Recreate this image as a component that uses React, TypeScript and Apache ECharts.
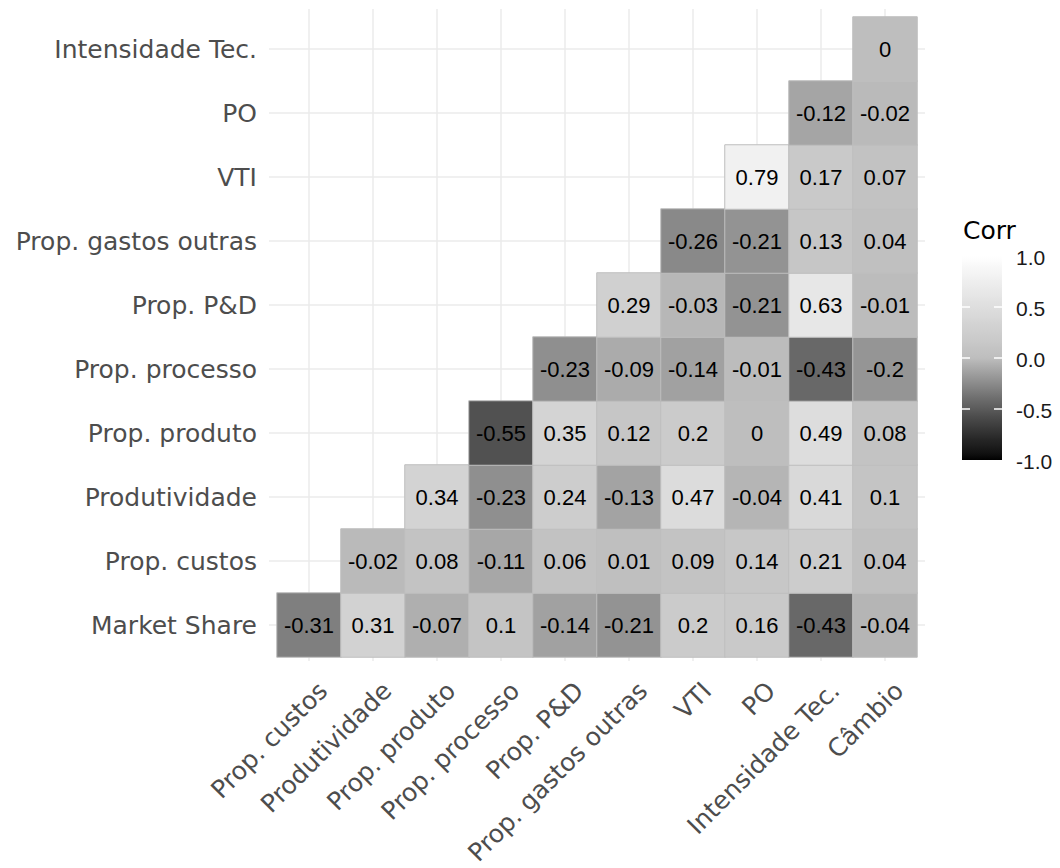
import React, { useEffect, useRef } from "react";
import * as echarts from "echarts";

// Variables along the horizontal axis (left to right)
const X_CATS = [
  "Prop. custos",
  "Produtividade",
  "Prop. produto",
  "Prop. processo",
  "Prop. P&D",
  "Prop. gastos outras",
  "VTI",
  "PO",
  "Intensidade Tec.",
  "Câmbio",
];

// Variables along the vertical axis (bottom to top)
const Y_CATS = [
  "Market Share",
  "Prop. custos",
  "Produtividade",
  "Prop. produto",
  "Prop. processo",
  "Prop. P&D",
  "Prop. gastos outras",
  "VTI",
  "PO",
  "Intensidade Tec.",
];

// Correlations per row, one entry per X_CATS column (null = upper triangle, not drawn)
const rowMarketShare = [-0.31, 0.31, -0.07, 0.1, -0.14, -0.21, 0.2, 0.16, -0.43, -0.04];
const rowPropCustos = [null, -0.02, 0.08, -0.11, 0.06, 0.01, 0.09, 0.14, 0.21, 0.04];
const rowProdutividade = [null, null, 0.34, -0.23, 0.24, -0.13, 0.47, -0.04, 0.41, 0.1];
const rowPropProduto = [null, null, null, -0.55, 0.35, 0.12, 0.2, 0, 0.49, 0.08];
const rowPropProcesso = [null, null, null, null, -0.23, -0.09, -0.14, -0.01, -0.43, -0.2];
const rowPropPD = [null, null, null, null, null, 0.29, -0.03, -0.21, 0.63, -0.01];
const rowPropGastosOutras = [null, null, null, null, null, null, -0.26, -0.21, 0.13, 0.04];
const rowVTI = [null, null, null, null, null, null, null, 0.79, 0.17, 0.07];
const rowPO = [null, null, null, null, null, null, null, null, -0.12, -0.02];
const rowIntensidade = [null, null, null, null, null, null, null, null, null, 0];

const ROWS = [
  rowMarketShare,
  rowPropCustos,
  rowProdutividade,
  rowPropProduto,
  rowPropProcesso,
  rowPropPD,
  rowPropGastosOutras,
  rowVTI,
  rowPO,
  rowIntensidade,
];

// Colour bar breaks
const LEGEND_BREAKS = [1.0, 0.5, 0.0, -0.5, -1.0];

// Diverging grey scale: black (-1) -> grey (0) -> white (1), interpolated in CIE L*
const L_MID = 76.97;
function greyAt(v: number): string {
  const L = v < 0 ? L_MID * (1 + v) : L_MID + (100 - L_MID) * v;
  const fy = (L + 16) / 116;
  const Y = L > 8 ? fy * fy * fy : L / 903.3;
  const s = Y <= 0.0031308 ? 12.92 * Y : 1.055 * Math.pow(Y, 1 / 2.4) - 0.055;
  const c = Math.max(0, Math.min(255, Math.round(s * 255)));
  const h = c.toString(16).padStart(2, "0");
  return "#" + h + h + h;
}

const RAMP_STEPS = 40;
const rampColors: string[] = [];
for (let i = 0; i <= RAMP_STEPS; i++) rampColors.push(greyAt(-1 + (2 * i) / RAMP_STEPS));

const AXIS_FONT = "DejaVu Sans";
const CELL_FONT = "Liberation Sans";

// Plot geometry
const PLOT_LEFT = 277;
const PLOT_TOP = 17;
const PLOT_SIZE = 640;
const CELL = PLOT_SIZE / 10;
const PANEL_PAD = 8;

// Colour bar geometry
const BAR_LEFT = 962;
const BAR_TOP = 256;
const BAR_W = 40;
const BAR_H = 204;

export default function App() {
  const ref = useRef<HTMLDivElement>(null);

  useEffect(() => {
    if (!ref.current) return;
    const chart = echarts.init(ref.current, null, { renderer: "svg" });

    const cells: [number, number, number][] = [];
    ROWS.forEach((row, yi) =>
      row.forEach((v, xi) => {
        if (v !== null) cells.push([xi, yi, v as number]);
      })
    );

    const barY = (v: number) => BAR_TOP + ((1 - v) / 2) * BAR_H;

    const legendGraphics: any[] = [
      {
        type: "text",
        x: BAR_LEFT + 1,
        y: 230,
        style: {
          text: "Corr",
          fill: "#000",
          font: `25px "${AXIS_FONT}"`,
          textAlign: "left",
          textVerticalAlign: "middle",
          align: "left",
          verticalAlign: "middle",
        },
      },
      {
        type: "rect",
        shape: { x: BAR_LEFT, y: BAR_TOP, width: BAR_W, height: BAR_H },
        style: {
          fill: new echarts.graphic.LinearGradient(
            0,
            0,
            0,
            1,
            rampColors
              .slice()
              .reverse()
              .map((c, i) => ({ offset: i / RAMP_STEPS, color: c }))
          ),
        },
      },
    ];
    LEGEND_BREAKS.forEach((b) => {
      const y = barY(b);
      if (b < 1 && b > -1) {
        legendGraphics.push(
          {
            type: "line",
            shape: { x1: BAR_LEFT, y1: y, x2: BAR_LEFT + 8, y2: y },
            style: { stroke: "#ffffff", lineWidth: 1.5 },
            z: 10,
          },
          {
            type: "line",
            shape: { x1: BAR_LEFT + BAR_W - 8, y1: y, x2: BAR_LEFT + BAR_W, y2: y },
            style: { stroke: "#ffffff", lineWidth: 1.5 },
            z: 10,
          }
        );
      }
      legendGraphics.push({
        type: "text",
        x: 1016,
        y: y + 1,
        style: {
          text: b.toFixed(1),
          fill: "#1a1a1a",
          font: `21px "${CELL_FONT}"`,
          textAlign: "left",
          textVerticalAlign: "middle",
          align: "left",
          verticalAlign: "middle",
        },
      });
    });

    const hiddenValue = { type: "value", show: false, splitLine: { show: false } };
    const gridLine = { show: true, interval: 0, lineStyle: { color: "#ebebeb", width: 1.5 } };

    chart.setOption({
      animation: false,
      backgroundColor: "#ffffff",
      textStyle: { fontFamily: CELL_FONT },
      grid: [
        { left: PLOT_LEFT, top: PLOT_TOP, width: PLOT_SIZE, height: PLOT_SIZE },
        // vertical major grid lines through column centres
        {
          left: PLOT_LEFT + CELL / 2,
          top: PLOT_TOP - PANEL_PAD,
          width: PLOT_SIZE - CELL,
          height: PLOT_SIZE + PANEL_PAD + 4,
        },
        // horizontal major grid lines through row centres
        {
          left: PLOT_LEFT - PANEL_PAD,
          top: PLOT_TOP + CELL / 2,
          width: PLOT_SIZE + 2 * PANEL_PAD,
          height: PLOT_SIZE - CELL,
        },
        // rotated column labels
        { left: PLOT_LEFT + 14, top: PLOT_TOP, width: PLOT_SIZE, height: PLOT_SIZE },
      ],
      xAxis: [
        {
          type: "category",
          gridIndex: 0,
          data: X_CATS,
          axisLine: { show: false },
          axisTick: { show: false },
          axisLabel: { show: false },
          splitLine: { show: false },
        },
        {
          type: "category",
          gridIndex: 1,
          data: X_CATS,
          boundaryGap: false,
          axisLine: { show: false },
          axisTick: { show: false },
          axisLabel: { show: false },
          splitLine: gridLine,
        },
        { ...hiddenValue, gridIndex: 2 },
        {
          type: "category",
          gridIndex: 3,
          data: X_CATS,
          axisLine: { show: false },
          axisTick: { show: false },
          splitLine: { show: false },
          axisLabel: {
            interval: 0,
            rotate: 45,
            margin: 30,
            fontSize: 25,
            fontFamily: AXIS_FONT,
            color: "#4d4d4d",
          },
        },
      ],
      yAxis: [
        {
          type: "category",
          gridIndex: 0,
          data: Y_CATS,
          axisLine: { show: false },
          axisTick: { show: false },
          splitLine: { show: false },
          axisLabel: {
            interval: 0,
            margin: 20,
            fontSize: 25,
            fontFamily: AXIS_FONT,
            color: "#4d4d4d",
          },
        },
        { ...hiddenValue, gridIndex: 1 },
        {
          type: "category",
          gridIndex: 2,
          data: Y_CATS,
          boundaryGap: false,
          axisLine: { show: false },
          axisTick: { show: false },
          axisLabel: { show: false },
          splitLine: gridLine,
        },
        { ...hiddenValue, gridIndex: 3 },
      ],
      visualMap: {
        type: "continuous",
        show: false,
        min: -1,
        max: 1,
        dimension: 2,
        seriesIndex: 0,
        inRange: { color: rampColors },
      },
      series: [
        {
          type: "heatmap",
          xAxisIndex: 0,
          yAxisIndex: 0,
          data: cells,
          itemStyle: { borderColor: "#bebebe", borderWidth: 1 },
          emphasis: { disabled: true },
          label: {
            show: true,
            formatter: (p: any) => String(p.value[2]),
            color: "#000000",
            fontSize: 22,
            fontFamily: CELL_FONT,
          },
        },
      ],
      graphic: legendGraphics,
    });

    return () => chart.dispose();
  }, []);

  return (
    <div
      ref={ref}
      style={{ position: "absolute", left: 0, top: 0, width: 1060, height: 868 }}
    />
  );
}
